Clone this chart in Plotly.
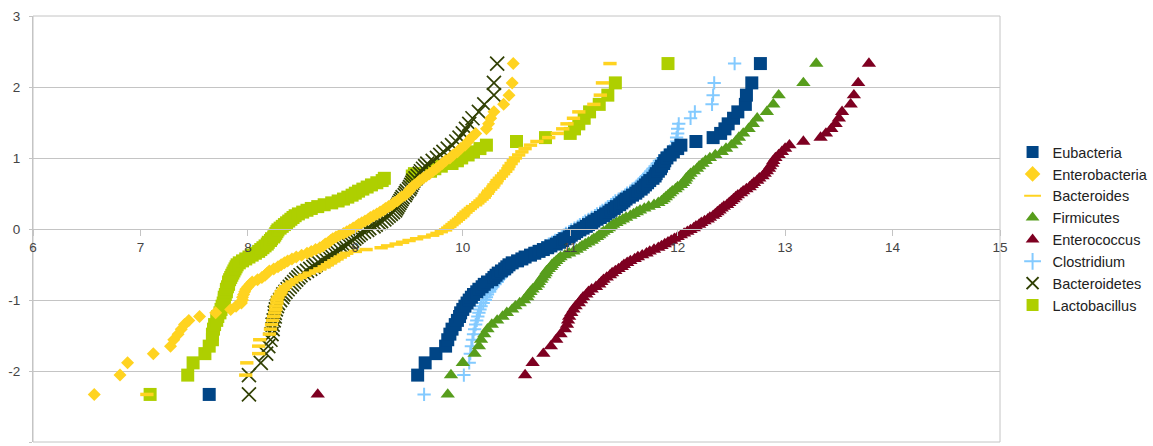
import plotly.graph_objects as go
from statistics import NormalDist

# Sorted log10 counts per group (100 samples each)
eubacteria = [
    7.64, 9.58, 9.65, 9.75, 9.84, 9.86, 9.88, 9.90, 9.93, 9.95,
    9.97, 9.98, 10.00, 10.02, 10.04, 10.06, 10.08, 10.10, 10.13, 10.15,
    10.18, 10.20, 10.23, 10.27, 10.29, 10.31, 10.33, 10.36, 10.39, 10.41,
    10.43, 10.46, 10.51, 10.55, 10.58, 10.63, 10.67, 10.71, 10.75, 10.79,
    10.82, 10.87, 10.90, 10.93, 10.95, 10.99, 11.01, 11.04, 11.06, 11.09,
    11.12, 11.15, 11.17, 11.20, 11.22, 11.25, 11.28, 11.31, 11.33, 11.36,
    11.38, 11.41, 11.43, 11.46, 11.48, 11.50, 11.52, 11.55, 11.58, 11.61,
    11.63, 11.66, 11.68, 11.70, 11.72, 11.74, 11.77, 11.79, 11.80, 11.82,
    11.84, 11.85, 11.87, 11.88, 11.90, 11.93, 11.96, 12.00, 12.03, 12.17,
    12.33, 12.40, 12.44, 12.47, 12.52, 12.56, 12.63, 12.64, 12.69, 12.77,
]
enterobacteria = [
    6.57, 6.81, 6.88, 7.12, 7.28, 7.31, 7.35, 7.38, 7.41, 7.45,
    7.55, 7.70, 7.84, 7.89, 7.94, 7.95, 7.95, 7.96, 7.97, 7.98,
    8.00, 8.02, 8.04, 8.09, 8.13, 8.16, 8.18, 8.20, 8.24, 8.28,
    8.31, 8.34, 8.37, 8.41, 8.45, 8.50, 8.55, 8.59, 8.63, 8.67,
    8.70, 8.72, 8.75, 8.77, 8.79, 8.82, 8.85, 8.89, 8.92, 8.95,
    8.98, 9.01, 9.03, 9.06, 9.09, 9.12, 9.14, 9.17, 9.20, 9.23,
    9.26, 9.28, 9.31, 9.34, 9.36, 9.39, 9.41, 9.43, 9.46, 9.48,
    9.50, 9.51, 9.53, 9.55, 9.58, 9.60, 9.63, 9.66, 9.69, 9.72,
    9.75, 9.78, 9.81, 9.84, 9.88, 9.91, 9.95, 9.98, 10.02, 10.05,
    10.08, 10.12, 10.22, 10.24, 10.26, 10.29, 10.38, 10.43, 10.46, 10.47,
]
bacteroides = [
    7.06, 7.98, 7.99, 8.10, 8.10, 8.11, 8.20, 8.21, 8.22, 8.23,
    8.24, 8.25, 8.26, 8.26, 8.27, 8.27, 8.28, 8.30, 8.31, 8.33,
    8.35, 8.38, 8.41, 8.45, 8.49, 8.53, 8.57, 8.63, 8.67, 8.71,
    8.74, 8.77, 8.80, 8.83, 8.86, 8.89, 8.92, 9.00, 9.10, 9.24,
    9.30, 9.38, 9.44, 9.50, 9.57, 9.64, 9.72, 9.76, 9.80, 9.84,
    9.86, 9.88, 9.90, 9.92, 9.94, 9.96, 9.98, 10.00, 10.01, 10.03,
    10.05, 10.07, 10.09, 10.12, 10.14, 10.16, 10.18, 10.20, 10.21, 10.23,
    10.24, 10.26, 10.28, 10.29, 10.31, 10.32, 10.34, 10.36, 10.38, 10.40,
    10.42, 10.43, 10.45, 10.47, 10.49, 10.52, 10.55, 10.58, 10.63, 10.69,
    10.80, 10.88, 10.93, 10.97, 11.03, 11.08, 11.22, 11.28, 11.30, 11.37,
]
firmicutes = [
    9.86, 9.89, 10.00, 10.11, 10.15, 10.17, 10.20, 10.23, 10.27, 10.32,
    10.37, 10.41, 10.46, 10.49, 10.53, 10.57, 10.60, 10.61, 10.63, 10.65,
    10.68, 10.70, 10.71, 10.73, 10.74, 10.76, 10.77, 10.78, 10.80, 10.82,
    10.83, 10.85, 10.87, 10.89, 10.91, 10.95, 10.99, 11.03, 11.06, 11.09,
    11.11, 11.14, 11.17, 11.20, 11.22, 11.25, 11.27, 11.29, 11.31, 11.34,
    11.36, 11.38, 11.40, 11.43, 11.46, 11.49, 11.52, 11.56, 11.59, 11.62,
    11.65, 11.69, 11.73, 11.78, 11.82, 11.85, 11.87, 11.89, 11.91, 11.93,
    11.95, 11.98, 12.00, 12.03, 12.05, 12.07, 12.08, 12.10, 12.12, 12.15,
    12.18, 12.20, 12.23, 12.26, 12.30, 12.35, 12.41, 12.45, 12.50, 12.54,
    12.57, 12.61, 12.66, 12.70, 12.74, 12.83, 12.89, 12.94, 13.17, 13.29,
]
enterococcus = [
    8.65, 10.58, 10.65, 10.75, 10.82, 10.87, 10.91, 10.95, 10.97, 10.98,
    10.99, 11.01, 11.03, 11.05, 11.08, 11.10, 11.12, 11.15, 11.17, 11.20,
    11.24, 11.27, 11.29, 11.31, 11.34, 11.37, 11.39, 11.42, 11.45, 11.48,
    11.50, 11.53, 11.56, 11.60, 11.63, 11.67, 11.71, 11.74, 11.78, 11.82,
    11.85, 11.88, 11.91, 11.94, 11.97, 12.00, 12.03, 12.06, 12.09, 12.12,
    12.15, 12.17, 12.20, 12.22, 12.25, 12.28, 12.30, 12.33, 12.35, 12.37,
    12.39, 12.41, 12.43, 12.46, 12.48, 12.50, 12.52, 12.54, 12.56, 12.59,
    12.61, 12.64, 12.67, 12.69, 12.71, 12.74, 12.76, 12.79, 12.81, 12.83,
    12.85, 12.86, 12.88, 12.89, 12.91, 12.94, 12.97, 13.00, 13.04, 13.17,
    13.33, 13.38, 13.43, 13.47, 13.50, 13.53, 13.61, 13.64, 13.68, 13.78,
]
clostridium = [
    9.64, 10.01, 10.06, 10.07, 10.08, 10.09, 10.10, 10.11, 10.12, 10.13,
    10.14, 10.15, 10.16, 10.17, 10.19, 10.21, 10.22, 10.23, 10.25, 10.26,
    10.28, 10.30, 10.32, 10.33, 10.35, 10.37, 10.39, 10.40, 10.42, 10.44,
    10.46, 10.49, 10.52, 10.55, 10.58, 10.61, 10.64, 10.67, 10.70, 10.74,
    10.77, 10.80, 10.83, 10.86, 10.89, 10.92, 10.94, 10.96, 10.99, 11.01,
    11.04, 11.07, 11.09, 11.12, 11.14, 11.17, 11.20, 11.23, 11.25, 11.28,
    11.30, 11.33, 11.35, 11.38, 11.40, 11.42, 11.45, 11.48, 11.51, 11.53,
    11.56, 11.58, 11.61, 11.63, 11.65, 11.67, 11.69, 11.71, 11.73, 11.75,
    11.77, 11.79, 11.81, 11.83, 11.86, 11.89, 11.92, 11.96, 11.98, 11.99,
    11.99, 12.00, 12.00, 12.01, 12.12, 12.16, 12.32, 12.33, 12.34, 12.53,
]
bacteroidetes = [
    8.01, 8.01, 8.12, 8.17, 8.19, 8.21, 8.22, 8.23, 8.23, 8.24,
    8.25, 8.25, 8.26, 8.27, 8.28, 8.30, 8.32, 8.33, 8.35, 8.37,
    8.39, 8.41, 8.43, 8.45, 8.47, 8.49, 8.52, 8.55, 8.58, 8.61,
    8.63, 8.66, 8.69, 8.72, 8.75, 8.77, 8.80, 8.82, 8.85, 8.88,
    8.90, 8.93, 8.95, 8.97, 8.99, 9.01, 9.03, 9.05, 9.08, 9.11,
    9.13, 9.17, 9.19, 9.22, 9.24, 9.27, 9.29, 9.31, 9.33, 9.35,
    9.37, 9.38, 9.39, 9.40, 9.41, 9.42, 9.43, 9.44, 9.46, 9.47,
    9.48, 9.50, 9.51, 9.52, 9.53, 9.54, 9.56, 9.58, 9.60, 9.61,
    9.63, 9.65, 9.67, 9.72, 9.76, 9.79, 9.82, 9.86, 9.90, 9.94,
    9.97, 10.00, 10.03, 10.06, 10.09, 10.15, 10.20, 10.29, 10.29, 10.32,
]
lactobacillus = [
    7.09, 7.44, 7.49, 7.60, 7.64, 7.67, 7.67, 7.68, 7.69, 7.71,
    7.72, 7.74, 7.75, 7.76, 7.77, 7.78, 7.78, 7.79, 7.80, 7.80,
    7.81, 7.82, 7.82, 7.83, 7.84, 7.85, 7.86, 7.87, 7.88, 7.89,
    7.90, 7.92, 7.95, 7.98, 8.01, 8.04, 8.07, 8.10, 8.12, 8.14,
    8.16, 8.18, 8.19, 8.21, 8.22, 8.24, 8.25, 8.26, 8.27, 8.28,
    8.30, 8.32, 8.34, 8.36, 8.38, 8.40, 8.42, 8.44, 8.47, 8.51,
    8.55, 8.59, 8.65, 8.71, 8.78, 8.84, 8.89, 8.93, 8.97, 9.00,
    9.03, 9.07, 9.11, 9.15, 9.20, 9.25, 9.27, 9.53, 9.55, 9.70,
    9.74, 9.80, 9.90, 9.95, 9.99, 10.05, 10.10, 10.16, 10.22, 10.50,
    10.77, 11.00, 11.04, 11.08, 11.13, 11.18, 11.27, 11.35, 11.42, 11.91,
]

x_ticks = [6, 7, 8, 9, 10, 11, 12, 13, 14, 15]
y_ticks = [-3, -2, -1, 0, 1, 2, 3]
y_tick_text = ["-3", "-2", "-1", "0", "1", "2", "3"]


def normal_scores(n):
    """Plotting positions of a normal probability plot: Phi^-1(i/(n+1))."""
    nd = NormalDist()
    return [nd.inv_cdf(i / (n + 1)) for i in range(1, n + 1)]


# name -> (values, marker style, legend rank); later groups are painted first,
# so the first legend entry ends up on top
groups = [
    ("Eubacteria", eubacteria,
     dict(symbol="square", size=13, color="#004586", line=dict(width=0)), 1),
    ("Enterobacteria", enterobacteria,
     dict(symbol="diamond", size=10, color="#ffd320", line=dict(width=0)), 2),
    ("Bacteroides", bacteroides,
     dict(symbol="line-ew", size=9.5, color="#ffd320",
          line=dict(color="#ffd320", width=3.5)), 3),
    ("Firmicutes", firmicutes,
     dict(symbol="triangle-up", size=12.5, color="#579d1c", line=dict(width=0)), 4),
    ("Enterococcus", enterococcus,
     dict(symbol="triangle-up", size=12.5, color="#7e0021", line=dict(width=0)), 5),
    ("Clostridium", clostridium,
     dict(symbol="cross-thin", size=9.5, color="#83caff",
          line=dict(color="#83caff", width=2)), 6),
    ("Bacteroidetes", bacteroidetes,
     dict(symbol="x-thin", size=14, color="#314004",
          line=dict(color="#314004", width=1.7)), 7),
    ("Lactobacillus", lactobacillus,
     dict(symbol="square", size=13, color="#aecf00", line=dict(width=0)), 8),
]

fig = go.Figure()
for name, values, marker, rank in reversed(groups):
    fig.add_trace(go.Scatter(
        x=values,
        y=normal_scores(len(values)),
        mode="markers",
        name=name,
        marker=marker,
        legendrank=rank,
    ))

grid = "#c4c4c4"
tick_font = dict(family="Liberation Sans, Arial, sans-serif", size=13.5, color="#444444")

fig.update_layout(
    width=1153,
    height=446,
    margin=dict(l=33, r=153, t=16, b=4, autoexpand=False),
    paper_bgcolor="white",
    plot_bgcolor="white",
    showlegend=True,
    legend=dict(
        x=1.013, xanchor="left",
        y=0.718, yanchor="top",
        font=dict(family="Liberation Sans, Arial, sans-serif", size=14.5, color="#222222"),
        itemsizing="constant",
        bgcolor="rgba(0,0,0,0)",
    ),
    xaxis=dict(
        range=[6, 15],
        anchor="free",
        position=0.5,
        tickmode="array",
        tickvals=x_ticks,
        showgrid=False,
        zeroline=False,
        showline=True,
        linecolor=grid,
        ticks="outside",
        ticklen=6,
        tickcolor=grid,
        tickfont=tick_font,
    ),
    yaxis=dict(
        range=[-3, 3],
        tickmode="array",
        tickvals=y_ticks,
        ticktext=y_tick_text,
        showgrid=True,
        gridcolor=grid,
        gridwidth=1,
        zeroline=False,
        showline=True,
        linecolor=grid,
        ticks="outside",
        ticklen=3,
        tickcolor=grid,
        ticklabelstandoff=6,
        tickfont=tick_font,
    ),
    shapes=[dict(type="rect", xref="paper", yref="paper", x0=0, y0=0, x1=1, y1=1,
                 line=dict(color=grid, width=1), layer="below")],
)

fig.write_html("out.html")
